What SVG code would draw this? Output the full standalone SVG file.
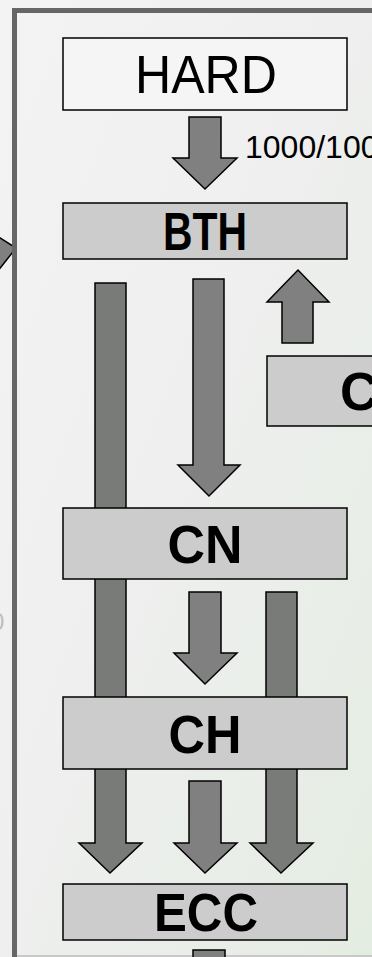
<svg xmlns="http://www.w3.org/2000/svg" width="372" height="957" viewBox="0 0 372 957">
<defs>
<linearGradient id="bg" x1="0" y1="0" x2="1" y2="1">
<stop offset="0" stop-color="#f3f3f3"/>
<stop offset="0.5" stop-color="#eeefee"/>
<stop offset="1" stop-color="#e4ede2"/>
</linearGradient>
<style>
.box{stroke:#000;stroke-width:1.5}
.lt{fill:#f5f5f5}
.gr{fill:#cccccc}
.arr{fill:#808080;stroke:#000;stroke-width:1.5;stroke-linejoin:miter}
.bar{fill:#797b79;stroke:#000;stroke-width:1.5}
.lbl{font-family:"Liberation Sans",Arial,sans-serif;font-size:53px;fill:#000;text-anchor:middle}
.b{font-weight:bold}
</style>
</defs>
<rect x="0" y="0" width="372" height="957" fill="url(#bg)"/>
<polygon class="arr" points="-3,236 16,248 -3,272"/>
<rect x="14.5" y="10.5" width="400" height="1000" fill="none" stroke="#666" stroke-width="5"/>
<line x1="17" y1="956" x2="372" y2="956" stroke="#c8c8c8" stroke-width="2"/>
<text x="-9" y="630" font-family="Liberation Sans, sans-serif" font-size="24" fill="#bdbdbd">0</text>
<g id="connectors">
<path class="bar" d="M95,283 H126 V843 H142 L110,873 L79,843 H95 Z"/>
<path class="bar" d="M266,592 H297 V843 H313 L281,873 L250,843 H266 Z"/>
<path class="arr" d="M189,117 H221 V158 H237 L205,189 L173,158 H189 Z"/>
<path class="arr" d="M193,279 H224 V465 H240 L209,496 L178,465 H193 Z"/>
<path class="arr" d="M282,343 V302 H267 L298,270 L329,302 H313 V343 Z"/>
<path class="arr" d="M189,592 H221 V653 H237 L205,684 L174,653 H189 Z"/>
<path class="arr" d="M189,781 H221 V843 H237 L205,873 L174,843 H189 Z"/>
<rect class="arr" x="193" y="950" width="32" height="12"/>
<text x="245" y="158" font-family="Liberation Sans, Arial, sans-serif" font-size="32" fill="#000">1000/100</text>
</g>
<g id="node-hard">
<rect class="box lt" x="63" y="38" width="284" height="72"/>
<text class="lbl" x="206" y="93" textLength="142" lengthAdjust="spacingAndGlyphs">HARD</text>
</g>
<g id="node-bth">
<rect class="box gr" x="63" y="203" width="284" height="56"/>
<text class="lbl b" x="205" y="250" textLength="84" lengthAdjust="spacingAndGlyphs">BTH</text>
</g>
<g id="node-c">
<rect class="box gr" x="267" y="356" width="130" height="70"/>
<text class="lbl b" x="340" y="410" style="text-anchor:start">C</text>
</g>
<g id="node-cn">
<rect class="box gr" x="63" y="508" width="284" height="71"/>
<text class="lbl b" x="205" y="563" textLength="75" lengthAdjust="spacingAndGlyphs">CN</text>
</g>
<g id="node-ch">
<rect class="box gr" x="63" y="697" width="284" height="72"/>
<text class="lbl b" x="205" y="753" textLength="73" lengthAdjust="spacingAndGlyphs">CH</text>
</g>
<g id="node-ecc">
<rect class="box gr" x="63" y="884" width="284" height="56"/>
<text class="lbl b" x="206" y="931" textLength="104" lengthAdjust="spacingAndGlyphs">ECC</text>
</g>
</svg>
